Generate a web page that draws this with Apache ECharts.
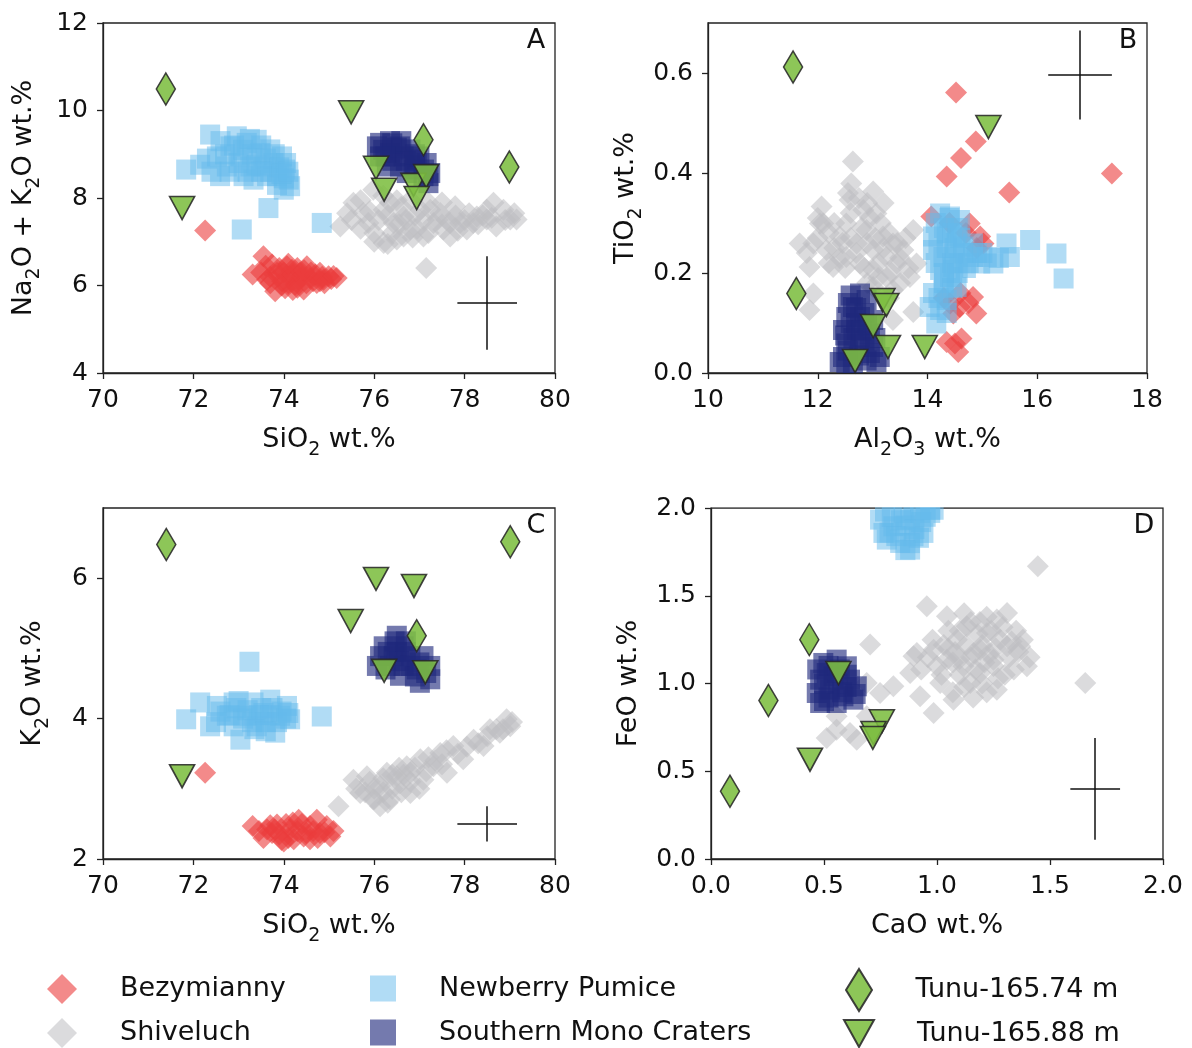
<!DOCTYPE html>
<html>
<head>
<meta charset="utf-8">
<script src="https://cdn.jsdelivr.net/npm/echarts@6/dist/echarts.min.js"></script>
<style>
  html, body { margin: 0; padding: 0; background: #fff; }
  #chart { width: 1192px; height: 1048px; }
</style>
</head>
<body>
<div id="chart"></div>
<script>
// ---------------- data (wt.% oxide values) ----------------
const seriesNames = ['Bezymianny', 'Shiveluch', 'Newberry Pumice', 'Southern Mono Craters', 'Tunu-165.74 m', 'Tunu-165.88 m'];

// Panel A: SiO2 vs Na2O + K2O
const bezA = [[72.26,7.26],[73.55,6.67],[73.31,6.25],[73.74,6.48],[73.85,6.29],[73.96,6.10],[73.81,5.87],[74.07,6.44],[74.14,6.21],[74.25,6.02],[74.36,6.29],[74.44,5.91],[74.51,6.44],[74.58,6.17],[74.73,6.06],[74.80,6.29],[74.88,6.13],[74.99,6.21],[75.17,6.17],[74.18,6.36],[74.33,6.13],[74.03,5.94],[73.88,6.21],[73.63,6.13],
  [73.50,6.30],[73.60,6.45],[73.70,6.20],[73.90,6.40],[73.95,6.00],[74.00,6.30],[74.10,6.05],[74.20,6.25],[74.30,6.40],[74.30,5.95],[74.40,6.20],[74.50,6.05],[74.60,6.30],[74.65,6.10],[74.70,6.25],[74.85,6.20],[74.90,6.05],[75.05,6.15],[74.10,6.50],[73.70,6.05],[74.45,6.35],[74.20,5.90],[74.80,6.10],[75.10,6.22]];
const shvA = [[75.25,7.35],[75.54,7.89],[75.76,7.66],[75.98,8.19],[76.21,7.73],[76.21,6.97],[76.43,7.43],[76.50,7.05],[76.65,7.58],[76.80,7.28],[77.02,7.73],[77.09,7.12],[77.31,7.43],[77.46,7.66],[77.53,7.28],[77.68,7.12],[77.79,7.81],[77.90,7.43],[78.05,7.28],[78.27,7.58],[78.49,7.51],[78.64,7.89],[78.86,7.73],[79.01,7.51],[79.15,7.51],[75.87,7.43],[76.35,7.89],[76.80,7.96],[77.24,7.73],[76.65,7.12],[77.68,7.43],[78.49,7.73],[78.19,7.43],[77.15,6.40],
  [75.50,7.50],[75.70,7.30],[75.90,7.70],[76.00,7.20],[76.10,7.50],[76.30,7.60],[76.40,7.20],[76.55,7.40],[76.60,7.80],[76.70,7.50],[76.90,7.60],[76.95,7.30],[77.10,7.50],[77.20,7.20],[77.40,7.50],[77.60,7.50],[77.80,7.60],[77.85,7.25],[78.00,7.50],[78.10,7.65],[78.30,7.40],[78.40,7.60],[78.60,7.55],[78.70,7.35],[78.90,7.50],[79.10,7.65],[76.00,7.00],[76.30,6.95],[76.20,8.05],[76.50,7.95],[77.50,7.90],[77.20,7.90],[76.85,7.10],[75.70,7.95],[75.40,7.65]];
const nbpA = [[72.37,9.45],[71.84,8.65],[72.15,8.76],[72.52,8.95],[72.59,8.50],[72.82,9.18],[72.96,9.41],[73.04,8.95],[73.18,9.26],[73.26,8.72],[73.40,9.33],[73.48,9.03],[73.55,8.72],[73.70,9.11],[73.77,8.80],[73.85,8.50],[73.96,8.95],[74.03,8.65],[74.11,8.42],[74.14,8.27],[74.00,8.19],[73.11,8.50],[72.74,8.72],[73.66,7.77],[73.07,7.28],[74.84,7.43],[73.33,8.42],[73.63,8.50],
  [72.30,8.90],[72.40,8.60],[72.70,9.00],[72.80,8.60],[72.90,9.20],[73.00,8.80],[73.10,9.10],[73.20,8.60],[73.30,9.00],[73.40,8.75],[73.50,9.20],[73.60,8.90],[73.70,8.60],[73.80,9.00],[73.90,8.70],[74.00,8.45],[74.05,8.80],[73.25,9.35],[72.60,9.30],[73.85,8.30],[73.50,8.60],[73.95,8.55],[74.10,8.60]];
const smcA = [[76.13,9.26],[76.35,9.30],[76.57,9.18],[76.80,9.11],[76.13,8.95],[76.35,9.03],[76.65,8.95],[76.94,8.88],[77.16,8.80],[77.24,8.57],[76.28,8.72],[76.57,8.72],[76.87,8.65],[77.09,8.50],[77.20,8.34],[76.72,8.57],[76.06,9.18],
  [76.20,9.10],[76.40,8.85],[76.50,9.15],[76.70,8.85],[76.90,8.75],[77.00,8.95],[77.10,8.65],[76.40,9.25],[76.90,9.00],[76.60,9.30],[77.20,8.50],[76.25,8.95]];
const t74A = [[71.39,10.49],[77.09,9.33],[78.99,8.71]];
const t88A = [[75.49,9.96],[76.04,8.69],[76.22,8.19],[76.87,8.30],[77.15,8.50],[76.94,8.00],[71.75,7.77]];

// Panel B: Al2O3 vs TiO2
const bezB = [[14.52,0.561],[14.88,0.463],[14.61,0.430],[14.35,0.393],[15.49,0.361],[17.36,0.399],[14.07,0.313],[14.96,0.273],[15.02,0.259],[14.77,0.299],[14.83,0.152],[14.89,0.119],[14.59,0.132],[14.47,0.119],[14.50,0.059],[14.62,0.069],[14.35,0.062],[14.56,0.042],[14.41,0.139],
  [14.70,0.280],[14.90,0.250],[14.40,0.300],[14.60,0.160],[14.75,0.140],[14.30,0.150]];
const shvB = [[12.64,0.423],[12.61,0.379],[13.01,0.363],[12.07,0.333],[12.58,0.346],[11.67,0.259],[11.92,0.259],[12.10,0.299],[12.16,0.246],[12.40,0.273],[12.52,0.299],[12.71,0.259],[12.89,0.286],[13.01,0.246],[13.19,0.273],[13.37,0.259],[13.56,0.246],[13.74,0.286],[13.80,0.219],[13.68,0.192],[13.44,0.219],[13.25,0.232],[13.01,0.206],[12.77,0.219],[12.52,0.232],[12.28,0.212],[11.85,0.212],[13.25,0.192],[13.37,0.166],[13.01,0.172],[13.74,0.122],[13.37,0.106],[11.85,0.126],[11.92,0.159],[12.04,0.299],[13.07,0.319],[12.83,0.326],
  [12.00,0.270],[12.20,0.280],[12.30,0.250],[12.30,0.300],[12.45,0.260],[12.50,0.210],[12.60,0.270],[12.60,0.320],[12.70,0.240],[12.80,0.290],[12.85,0.210],[12.90,0.260],[12.95,0.310],[13.05,0.270],[13.10,0.220],[13.15,0.300],[13.20,0.250],[13.30,0.280],[13.35,0.200],[13.45,0.260],[13.50,0.230],[13.60,0.270],[13.65,0.210],[13.10,0.190],[12.90,0.180],[13.30,0.150],[13.50,0.180],[12.40,0.230],[12.20,0.220],[12.75,0.350],[12.90,0.340],[12.55,0.360],[13.20,0.340],[11.80,0.240],[12.00,0.310]];
const nbpB = [[14.23,0.319],[14.41,0.313],[14.59,0.306],[14.10,0.273],[14.35,0.279],[14.53,0.273],[14.10,0.246],[14.29,0.232],[14.47,0.239],[14.65,0.253],[14.83,0.232],[14.96,0.219],[14.23,0.206],[14.41,0.192],[14.59,0.219],[14.29,0.166],[14.35,0.146],[14.23,0.126],[14.04,0.132],[14.16,0.099],[14.83,0.259],[14.47,0.212],[14.53,0.172],[15.08,0.232],[15.20,0.219],[15.44,0.259],[15.50,0.232],[15.87,0.266],[16.35,0.239],[16.48,0.189],
  [14.15,0.300],[14.30,0.290],[14.45,0.280],[14.55,0.290],[14.20,0.260],[14.35,0.250],[14.50,0.250],[14.65,0.240],[14.75,0.220],[14.90,0.240],[14.15,0.220],[14.30,0.200],[14.45,0.220],[14.55,0.200],[14.70,0.210],[14.30,0.180],[14.45,0.170],[14.20,0.150],[14.35,0.120],[14.10,0.160],[15.00,0.240],[15.30,0.230],[14.60,0.270],[14.40,0.310]];
const smcB = [[12.77,0.159],[12.89,0.146],[12.64,0.132],[12.52,0.112],[12.77,0.112],[13.01,0.106],[12.46,0.086],[12.71,0.086],[12.95,0.079],[12.52,0.059],[12.77,0.059],[13.01,0.052],[12.46,0.032],[12.64,0.020],[12.89,0.025],[13.07,0.022],[12.52,0.020],[12.40,0.022],[13.13,0.032],
  [12.55,0.140],[12.70,0.130],[12.85,0.120],[12.60,0.100],[12.90,0.095],[12.50,0.075],[12.65,0.070],[12.85,0.065],[12.95,0.040],[12.55,0.045],[12.75,0.035],[12.70,0.100],[12.60,0.155],[12.80,0.085],[13.05,0.070]];
const t74B = [[11.55,0.612],[11.61,0.159]];
const t88B = [[15.11,0.492],[13.18,0.146],[13.25,0.136],[13.01,0.094],[13.28,0.052],[13.95,0.052],[12.68,0.024]];

// Panel C: SiO2 vs K2O
const bezC = [[72.26,3.23],[73.31,2.47],[73.63,2.42],[73.55,2.30],[73.85,2.49],[74.00,2.25],[74.14,2.42],[74.33,2.56],[74.44,2.32],[74.58,2.47],[74.73,2.56],[74.80,2.37],[74.95,2.47],[75.03,2.32],[73.74,2.37],[74.22,2.28],[74.58,2.28],
  [73.45,2.40],[73.70,2.48],[73.90,2.35],[74.05,2.50],[74.10,2.30],[74.30,2.40],[74.40,2.50],[74.50,2.37],[74.65,2.40],[74.90,2.38],[74.20,2.52],[73.95,2.27],[74.75,2.30],[75.10,2.40],[73.80,2.42]];
const shvC = [[75.21,2.75],[75.54,3.13],[75.69,2.94],[75.84,3.18],[75.98,2.85],[76.13,3.04],[76.28,3.23],[76.35,2.85],[76.57,3.08],[76.72,3.32],[76.80,2.94],[77.02,3.42],[77.09,3.13],[77.31,3.32],[77.46,3.51],[77.61,3.23],[77.75,3.61],[77.97,3.42],[78.20,3.70],[78.42,3.61],[78.56,3.85],[78.78,3.80],[79.01,3.89],[78.93,3.99],[76.50,3.18],[76.80,3.23],[76.13,2.75],
  [75.80,2.95],[75.90,3.10],[76.00,3.00],[76.20,2.95],[76.20,3.15],[76.40,3.00],[76.40,3.20],[76.60,2.95],[76.65,3.20],[76.80,3.10],[76.90,3.30],[77.00,3.00],[77.15,3.25],[77.20,3.45],[77.35,3.40],[77.50,3.35],[77.60,3.55],[77.85,3.50],[78.05,3.60],[78.30,3.65],[78.50,3.75],[78.70,3.85],[78.85,3.85],[79.05,3.95],[76.00,2.85],[76.30,2.80],[75.60,3.00],[76.55,3.30]];
const nbpC = [[71.84,3.99],[72.15,4.23],[72.37,3.89],[72.52,4.18],[72.74,4.04],[72.89,4.23],[73.04,3.70],[73.18,4.04],[73.33,4.23],[73.40,3.89],[73.55,4.08],[73.70,4.27],[73.81,3.80],[73.92,4.04],[74.07,4.18],[74.14,3.99],[72.89,3.89],[73.24,4.81],[74.84,4.03],
  [72.60,4.10],[72.80,4.05],[72.95,4.15],[73.10,4.00],[73.20,4.12],[73.30,3.95],[73.45,4.05],[73.50,4.15],[73.60,3.95],[73.70,4.05],[73.75,4.15],[73.85,3.95],[73.95,4.10],[74.05,4.00],[74.10,4.08],[73.35,3.85],[73.60,3.82],[72.50,3.95],[73.00,4.25]];
const smcC = [[76.50,5.18],[76.21,5.03],[76.65,5.03],[76.13,4.89],[76.43,4.89],[76.80,4.89],[77.09,4.89],[76.06,4.75],[76.35,4.75],[76.65,4.75],[76.94,4.70],[77.24,4.75],[77.01,4.51],[77.24,4.56],[76.57,4.61],
  [76.30,4.95],[76.50,4.95],[76.70,4.95],[76.55,4.82],[76.80,4.75],[77.00,4.80],[76.25,4.70],[76.90,4.60],[77.15,4.65],[76.45,5.10],[76.70,5.10]];
const t74C = [[71.40,6.48],[79.01,6.52],[76.94,5.18]];
const t88C = [[76.04,5.99],[76.88,5.89],[75.48,5.39],[76.22,4.68],[77.13,4.66],[71.75,3.18]];

// Panel D: CaO vs FeO
const bezD = [];
const shvD = [[1.446,1.668],[1.656,1.003],[0.955,1.440],[0.704,1.222],[0.896,1.155],[0.807,0.984],[0.881,1.060],[0.925,0.927],[0.985,0.832],[1.073,0.908],[1.044,1.383],[1.088,1.250],[1.132,1.326],[1.162,1.174],[1.221,1.288],[1.265,1.364],[1.310,1.402],[1.191,1.060],[1.250,1.136],[1.310,1.212],[1.368,1.212],[1.398,1.098],[1.265,0.965],[1.147,1.003],[1.044,1.136],[1.014,1.003],[1.117,1.098],[1.191,1.193],[0.985,1.193],[0.911,1.174],[0.689,1.003],[0.748,0.946],[0.556,0.813],[0.512,0.690],[0.615,0.718],[0.645,0.680],[0.556,0.737],[0.689,0.813],
  [1.00,1.10],[1.05,1.20],[1.10,1.05],[1.10,1.30],[1.15,1.15],[1.20,1.00],[1.20,1.22],[1.25,1.10],[1.28,1.25],[1.32,1.15],[1.15,1.35],[1.22,1.38],[1.35,1.30],[1.05,1.30],[0.98,1.25],[1.12,0.98],[1.30,1.05],[1.08,1.18],[1.18,1.28],[1.26,1.20],[0.93,1.08],[1.36,1.18],[1.22,0.95],
  [1.02,1.05],[1.07,1.12],[1.13,1.22],[1.17,1.08],[1.23,1.17],[1.27,1.03],[1.29,1.32],[1.33,1.24],[1.38,1.25],[1.12,1.40],[1.07,0.95],[1.16,0.92],[1.24,1.30],[1.19,1.35],[1.03,1.22],[0.96,1.15],[1.34,1.08],[1.41,1.15],[1.10,1.14],[1.21,1.12]];
const nbpD = [[0.763,1.858],[0.807,1.896],[0.881,1.934],[0.925,1.972],[0.837,1.801],[0.881,1.763],[0.778,1.820],[0.896,1.839],[0.970,1.972],[0.940,1.858],[0.852,1.972],[0.748,1.934],[0.985,1.990],[0.896,1.985],
  [0.79,1.86],[0.82,1.84],[0.86,1.90],[0.90,1.88],[0.93,1.92],[0.88,1.80],[0.84,1.93],[0.80,1.95],[0.95,1.95],[0.92,1.83],[0.86,1.76],[0.97,1.99],[0.77,1.98]];
const smcD = [[0.497,1.117],[0.556,1.136],[0.601,1.098],[0.483,1.022],[0.542,1.041],[0.615,1.022],[0.645,0.984],[0.468,0.946],[0.527,0.965],[0.586,0.927],[0.483,0.889],[0.556,0.889],[0.630,0.908],[0.512,1.060],
  [0.52,1.10],[0.57,1.08],[0.50,1.00],[0.56,1.00],[0.60,0.98],[0.52,0.92],[0.60,1.05],[0.47,1.08],[0.50,0.90],[0.58,0.95],[0.64,0.94]];
const t74D = [[0.084,0.386],[0.254,0.903],[0.435,1.250]];
const t88D = [[0.564,1.060],[0.756,0.785],[0.719,0.718],[0.716,0.690],[0.438,0.566]];

// Analytical uncertainty crosses: [centre x, centre y, half-width x, half-height y]
const errA = [78.5, 5.6, 0.66, 1.07];
const errB = [16.78, 0.596, 0.58, 0.089];
const errC = [78.5, 2.5, 0.66, 0.25];
const errD = [1.70, 0.40, 0.11, 0.29];

// Axis ranges and tick labels
const xRangeA = [70, 80], yRangeA = [4, 12];
const xRangeB = [10, 18], yRangeB = [0, 0.7];
const xRangeC = [70, 80], yRangeC = [2, 7];
const xRangeD = [0, 2],   yRangeD = [0, 2];
const xTicksA = [70, 72, 74, 76, 78, 80], yTicksA = [4, 6, 8, 10, 12];
const xTicksB = [10, 12, 14, 16, 18],     yTicksB = [0, 0.2, 0.4, 0.6];
const xTicksC = [70, 72, 74, 76, 78, 80], yTicksC = [2, 4, 6];
const xTicksD = [0, 0.5, 1, 1.5, 2],      yTicksD = [0, 0.5, 1, 1.5, 2];

const panelLetters = ['A', 'B', 'C', 'D'];
const xNames = ['SiO{s|2} wt.%', 'Al{s|2}O{s|3} wt.%', 'SiO{s|2} wt.%', 'CaO wt.%'];
const yNames = ['Na{s|2}O + K{s|2}O wt.%', 'TiO{s|2} wt.%', 'K{s|2}O wt.%', 'FeO wt.%'];

// ---------------- layout & styling ----------------
const FONT = 'DejaVu Sans';
const INK = '#111';
const AXIS = '#222';

const grids = [
  { left: 103, top: 23,  width: 452, height: 350 },
  { left: 708, top: 23,  width: 439, height: 350 },
  { left: 103, top: 508, width: 452, height: 351 },
  { left: 711, top: 508, width: 452, height: 351 }
];
const yNameGaps = [59, 62, 50, 62];
const decimals = [[0, 0], [0, 1], [0, 0], [1, 1]];

const TRI_DOWN = 'path://M0,0L30,0L15,27Z';
const TALL_DIAMOND = 'path://M0,-21L13,0L0,21L-13,0Z';

const styles = {
  'Bezymianny':            { symbol: 'diamond', size: 22, color: 'rgb(235,60,60)',  opacity: 0.6 },
  'Shiveluch':             { symbol: 'diamond', size: 22, color: 'rgb(190,190,193)', opacity: 0.55 },
  'Newberry Pumice':       { symbol: 'rect',    size: 20, color: 'rgb(100,185,235)', opacity: 0.5 },
  'Southern Mono Craters': { symbol: 'rect',    size: 20, color: 'rgb(30,40,125)',   opacity: 0.62 },
  'Tunu-165.74 m':         { symbol: 'diamond', size: [19, 32], color: 'rgb(125,190,65)', opacity: 0.88, border: true },
  'Tunu-165.88 m':         { symbol: TRI_DOWN,  size: [25, 23], color: 'rgb(125,190,65)', opacity: 0.88, border: true }
};

const panelData = [
  [bezA, shvA, nbpA, smcA, t74A, t88A],
  [bezB, shvB, nbpB, smcB, t74B, t88B],
  [bezC, shvC, nbpC, smcC, t74C, t88C],
  [bezD, shvD, nbpD, smcD, t74D, t88D]
];
const errs = [errA, errB, errC, errD];
const xRanges = [xRangeA, xRangeB, xRangeC, xRangeD];
const yRanges = [yRangeA, yRangeB, yRangeC, yRangeD];
const xTicks = [xTicksA, xTicksB, xTicksC, xTicksD];
const yTicks = [yTicksA, yTicksB, yTicksC, yTicksD];

const nameStyle = {
  fontFamily: FONT, fontSize: 27, color: INK, lineHeight: 40,
  rich: { s: { fontFamily: FONT, fontSize: 19, lineHeight: 19, color: INK, verticalAlign: 'bottom' } }
};

function axisCommon(range, ticks, dec) {
  return {
    type: 'value',
    min: range[0],
    max: range[1],
    splitLine: { show: false },
    axisLine: { show: true, onZero: false, lineStyle: { color: AXIS, width: 1.3 } },
    axisTick: { show: true, inside: false, length: 6, lineStyle: { color: AXIS, width: 1.3 }, customValues: ticks },
    axisLabel: {
      show: true, margin: 15, customValues: ticks,
      fontFamily: FONT, fontSize: 25, color: INK,
      formatter: v => Number(v).toFixed(dec)
    },
    nameLocation: 'middle',
    nameTextStyle: nameStyle
  };
}

const xAxes = [], yAxes = [], series = [];
grids.forEach((g, i) => {
  xAxes.push(Object.assign(axisCommon(xRanges[i], xTicks[i], decimals[i][0]), {
    gridIndex: i, name: xNames[i], nameGap: 47
  }));
  yAxes.push(Object.assign(axisCommon(yRanges[i], yTicks[i], decimals[i][1]), {
    gridIndex: i, name: yNames[i], nameGap: yNameGaps[i]
  }));

  seriesNames.forEach((name, k) => {
    const st = styles[name];
    series.push({
      type: 'scatter',
      name: name,
      xAxisIndex: i,
      yAxisIndex: i,
      data: panelData[i][k],
      symbol: st.symbol,
      symbolSize: st.size,
      z: 2 + k,
      animation: false,
      itemStyle: {
        color: st.color,
        opacity: st.opacity,
        borderColor: st.border ? 'rgb(40,40,40)' : 'transparent',
        borderWidth: st.border ? 1.6 : 0
      },
      emphasis: { disabled: true }
    });
  });

  const e = errs[i];
  series.push({
    type: 'lines',
    coordinateSystem: 'cartesian2d',
    xAxisIndex: i,
    yAxisIndex: i,
    silent: true,
    animation: false,
    z: 10,
    lineStyle: { color: '#111', width: 1.5, opacity: 1 },
    data: [
      { coords: [[e[0] - e[2], e[1]], [e[0] + e[2], e[1]]] },
      { coords: [[e[0], e[1] - e[3]], [e[0], e[1] + e[3]]] }
    ]
  });
});

// Legend: three columns of two entries below the panels
const legendSpec = [
  { name: 'Bezymianny',            icon: 'diamond', w: 30, h: 30, left: 47,  top: 974 },
  { name: 'Shiveluch',             icon: 'diamond', w: 30, h: 30, left: 47,  top: 1018 },
  { name: 'Newberry Pumice',       icon: 'rect',    w: 26, h: 26, left: 370, top: 975 },
  { name: 'Southern Mono Craters', icon: 'rect',    w: 26, h: 26, left: 370, top: 1019 },
  { name: 'Tunu-165.74 m',         icon: TALL_DIAMOND, w: 27, h: 42, left: 845, top: 968 },
  { name: 'Tunu-165.88 m',         icon: TRI_DOWN,  w: 30, h: 28, left: 843, top: 1019 }
];
const legends = legendSpec.map(l => ({
  data: [{ name: l.name, icon: l.icon }],
  left: l.left, top: l.top, padding: 0,
  itemWidth: l.w, itemHeight: l.h,
  selectedMode: false,
  textStyle: { fontFamily: FONT, fontSize: 27, color: INK, padding: [0, 0, 0, 38] }
}));

// Panel letters, and a white band that trims marks overflowing panel D's top edge
const graphics = grids.map((g, i) => ({
  type: 'text',
  x: g.left + g.width - 19,
  y: g.top + 18,
  z: 20,
  style: { text: panelLetters[i], font: '27px "' + FONT + '"', fill: INK, align: 'center', verticalAlign: 'middle' }
}));
graphics.push({
  type: 'rect', z: 50,
  shape: { x: grids[3].left - 2, y: grids[3].top - 40, width: grids[3].width + 4, height: 39.3 },
  style: { fill: '#fff' }
});

const chart = echarts.init(document.getElementById('chart'), null, { renderer: 'canvas' });
chart.setOption({
  backgroundColor: '#fff',
  animation: false,
  grid: grids.map(g => Object.assign({
    show: true, borderColor: AXIS, borderWidth: 1.3, backgroundColor: 'transparent',
    containLabel: false, outerBoundsMode: 'none'
  }, g)),
  xAxis: xAxes,
  yAxis: yAxes,
  legend: legends,
  graphic: graphics,
  series: series
});
</script>
</body>
</html>
